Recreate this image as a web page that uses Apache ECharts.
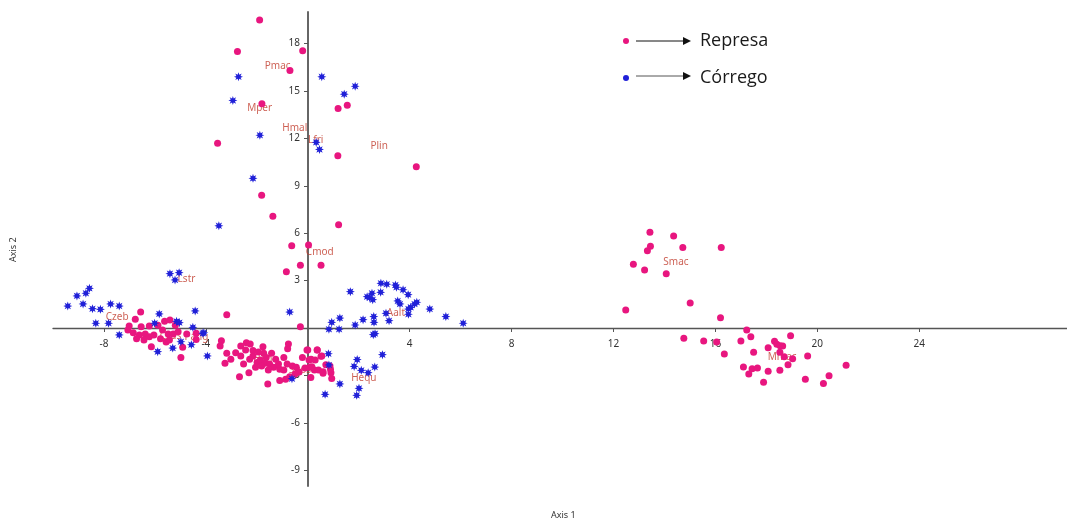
<!DOCTYPE html>
<html>
<head>
<meta charset="utf-8">
<script src="https://cdn.jsdelivr.net/npm/echarts@6/dist/echarts.min.js"></script>
<style>
  html, body { margin: 0; padding: 0; background: #fff; }
  #main { width: 1067px; height: 523px; }
</style>
</head>
<body>
<div id="main"></div>
<script>
// Represa samples (pink dots)
const represa = [
  [-1.89, 19.5], [-2.76, 17.5], [-0.2, 17.55], [-0.7, 16.3], [-1.8, 14.2], [-3.54, 11.7],
  [1.19, 13.9], [1.55, 14.1], [1.18, 10.9], [4.26, 10.2], [-1.81, 8.4], [-1.37, 7.07],
  [1.21, 6.54], [0.03, 5.25], [-0.63, 5.2], [-0.84, 3.56], [-0.29, 3.97], [0.52, 3.97],
  [-0.29, 0.08], [-3.18, 0.84],
  // right group
  [13.43, 6.06], [14.36, 5.82], [13.45, 5.17], [13.33, 4.89], [14.72, 5.1], [16.23, 5.1],
  [12.78, 4.03], [13.22, 3.67], [14.07, 3.44], [12.48, 1.14], [15.01, 1.58], [16.2, 0.65],
  [14.76, -0.65], [15.54, -0.82], [16.05, -0.89], [16.35, -1.65], [17.23, -0.13], [17.39, -0.55],
  [17.0, -0.82], [18.95, -0.49], [18.32, -0.84], [18.07, -1.25], [18.41, -1.03], [18.54, -1.12],
  [18.64, -1.14], [17.5, -1.54], [18.53, -1.54], [18.7, -1.82], [19.03, -1.94], [19.62, -1.77],
  [18.85, -2.32], [17.1, -2.47], [17.44, -2.58], [17.65, -2.53], [17.31, -2.91], [18.07, -2.74],
  [18.53, -2.68], [17.89, -3.44], [19.53, -3.25], [20.24, -3.52], [20.46, -3.02], [21.13, -2.36],
  // central group below axis
  [0, -1.39], [0.37, -1.39], [0.52, -1.79], [0.13, -1.98], [0.87, -2.4], [0.91, -2.83],
  [0.6, -2.87], [0.26, -2.66], [0.08, -2.49], [0.12, -3.14],
  [-3.39, -0.8], [-3.44, -1.14], [-3.18, -1.6], [-3.25, -2.23], [-3.02, -1.98], [-2.83, -1.56],
  [-2.63, -1.14], [-2.41, -0.93], [-2.26, -1.01], [-2.44, -1.39], [-2.63, -1.77], [-2.52, -2.28],
  [-2.31, -2.83], [-2.28, -1.98], [-2.15, -1.77], [-1.99, -2.19], [-2.05, -2.49], [-1.76, -1.18],
  [-1.73, -1.6], [-1.86, -2.03], [-1.68, -2.23], [-1.5, -2.28], [-1.34, -2.49], [-1.55, -2.66],
  [-1.26, -1.98], [-1.1, -2.61], [-0.94, -2.66], [-0.76, -1.01], [-0.79, -1.31], [-0.94, -1.86],
  [-0.81, -2.28], [-1.57, -3.54], [-1.1, -3.33], [-0.87, -3.25], [-0.6, -2.4], [-0.45, -2.49],
  [-0.34, -2.78], [-0.5, -2.91], [-0.71, -3.08], [-0.21, -1.86], [-0.03, -1.39], [0.05, -2.03],
  [-0.11, -2.53], [0.16, -2.45], [0.29, -2.03], [0.37, -1.39], [0.55, -1.77], [0.42, -2.66],
  [0.6, -2.77], [0.71, -2.32], [0.89, -2.61], [0.94, -3.2], [-2.68, -3.08],
  [-2.15, -1.43], [-1.94, -1.52], [-1.42, -1.6], [-1.15, -2.28], [-1.63, -1.86], [-1.81, -2.4],
  // left group
  [-6.56, 1.01], [-7.06, -0.13], [-6.85, -0.3], [-6.61, -0.44], [-6.38, -0.38], [-6.22, -0.55],
  [-6.04, -0.44], [-5.88, 0.17], [-5.62, 0.42], [-5.41, 0.51], [-5.2, 0.17], [-6.22, 0.13],
  [-6.54, 0.08], [-6.77, 0.55], [-5.7, -0.13], [-5.48, -0.38], [-5.28, -0.38], [-5.09, -0.23],
  [-4.75, -0.38], [-4.38, -0.34], [-6.14, -1.18], [-5.56, -0.89], [-5.43, -0.76], [-4.98, -1.86],
  [-4.91, -1.22], [-5.78, -0.68], [-6.43, -0.76], [-4.38, -0.72], [-7.01, 0.13], [-6.72, -0.68]
];

// Córrego samples (blue stars)
const corrego = [
  [-2.72, 15.9], [-2.94, 14.4], [-1.88, 12.2], [0.55, 15.9], [1.43, 14.8], [1.86, 15.3],
  [0.33, 11.75], [0.46, 11.3], [-2.15, 9.47], [-3.49, 6.47], [-0.71, 1.01],
  [1.67, 2.3], [2.87, 2.83], [3.1, 2.77], [3.44, 2.72], [3.48, 2.58], [3.74, 2.42], [3.94, 2.11],
  [2.52, 2.2], [2.86, 2.26], [2.33, 1.98], [2.43, 1.92], [2.55, 1.79], [3.53, 1.71], [3.62, 1.52],
  [4.28, 1.63], [4.19, 1.52], [4.04, 1.31], [3.95, 1.2], [4.79, 1.2], [5.42, 0.72], [6.1, 0.3],
  [3.07, 0.93], [3.95, 0.87], [3.19, 0.46], [2.17, 0.53], [2.59, 0.72], [2.6, 0.36], [1.86, 0.19],
  [1.26, 0.63], [0.94, 0.36], [1.23, -0.08], [0.83, -0.08], [2.57, -0.42], [2.64, -0.36],
  [2.93, -1.69], [0.81, -1.63], [0.83, -2.34], [1.94, -2.0], [1.82, -2.43], [2.1, -2.68],
  [2.37, -2.83], [2.63, -2.47], [1.26, -3.54], [2.01, -3.82], [1.92, -4.26], [0.68, -4.2],
  [-0.62, -3.21],
  [-4.12, -0.34], [-3.94, -1.77],
  [-8.57, 2.51], [-8.71, 2.2], [-9.06, 2.03], [-9.42, 1.39], [-8.82, 1.52], [-8.45, 1.22],
  [-8.14, 1.18], [-7.74, 1.52], [-7.4, 1.39], [-8.32, 0.3], [-7.82, 0.3], [-7.4, -0.44],
  [-5.83, 0.89], [-6.01, 0.3], [-5.89, -1.5], [-5.15, 0.42],
  [-5.41, 3.44], [-5.05, 3.5], [-5.21, 3.04], [-4.42, 1.08], [-4.51, 0.04], [-4.08, -0.3],
  [-5.04, 0.34], [-4.98, -0.87], [-5.3, -1.27], [-4.57, -1.06]
];

// species labels
const speciesNames = ['Pmac', 'Mper', 'Hmal', 'Lfri', 'Plin', 'Cmod', 'Lstr', 'Czeb', 'Ccas', 'Pang',
  'Hena', 'Sgos', 'Hequ', 'Aalt', 'Smac', 'Mmac'];
const speciesPos = [
  [-1.18, 16.58], [-1.89, 13.92], [-0.51, 12.66], [0.31, 11.9], [2.8, 11.52], [0.47, 4.81],
  [-4.76, 3.1], [-7.48, 0.7], [-5.39, -0.5], [-4.37, -0.57], [-1.65, -1.96], [-0.31, -2.66],
  [2.2, -3.16], [3.46, 0.95], [14.45, 4.18], [18.62, -1.84]
];

const xTicks = [-8, -4, 4, 8, 12, 16, 20, 24];
const yTicks = [-9, -6, -3, 3, 6, 9, 12, 15, 18];

function starPath(n, inner) {
  let d = '';
  for (let i = 0; i < n * 2; i++) {
    const a = i * Math.PI / n - Math.PI / 2;
    const r = i % 2 ? inner : 1;
    d += (i ? 'L' : 'M') + (r * Math.cos(a)).toFixed(3) + ' ' + (r * Math.sin(a)).toFixed(3);
  }
  return 'path://' + d + 'Z';
}

const chart = echarts.init(document.getElementById('main'));

const option = {
  animation: false,
  backgroundColor: '#fff',
  textStyle: { fontFamily: 'Noto Sans' },
  grid: { left: 53, right: 0, top: 12, bottom: 37 },
  legend: {
    orient: 'vertical',
    left: 618,
    top: 27,
    itemGap: 19,
    itemWidth: 6,
    itemHeight: 6,
    icon: 'circle',
    data: ['Represa', 'Córrego'],
    formatter: (name) => '{gap|}' + name,
    textStyle: {
      fontFamily: 'Open Sans',
      fontSize: 18,
      color: '#1a1a1a',
      rich: { gap: { width: 66 } }
    }
  },
  // axes cross at the origin: shift them into the plot with a negative offset
  xAxis: {
    type: 'value',
    min: -10,
    max: 29.8,
    offset: -158,
    axisLine: { onZero: false, lineStyle: { color: '#555', width: 1.3 } },
    axisTick: { show: true, length: 4, customValues: xTicks, lineStyle: { color: '#555' } },
    axisLabel: { customValues: xTicks, fontSize: 10, color: '#333', margin: 11 },
    splitLine: { show: false }
  },
  yAxis: {
    type: 'value',
    min: -10,
    max: 20,
    offset: -255,
    axisLine: { onZero: false, lineStyle: { color: '#666', width: 2 } },
    axisTick: { show: true, length: 4, customValues: yTicks, lineStyle: { color: '#555' } },
    axisLabel: { customValues: yTicks, fontSize: 10, color: '#333', margin: 8 },
    splitLine: { show: false }
  },
  graphic: [
    { type: 'line', shape: { x1: 636, y1: 41, x2: 684, y2: 41 }, style: { stroke: '#111', lineWidth: 1 } },
    { type: 'polygon', shape: { points: [[683, 37], [691, 41], [683, 45]] }, style: { fill: '#111' } },
    { type: 'line', shape: { x1: 636, y1: 76, x2: 684, y2: 76 }, style: { stroke: '#555', lineWidth: 1 } },
    { type: 'polygon', shape: { points: [[683, 72], [691, 76], [683, 80]] }, style: { fill: '#111' } },
    { type: 'text', left: 551, top: 511, style: { text: 'Axis 1', fontSize: 9, fill: '#333', fontFamily: 'Noto Sans' } },
    { type: 'text', x: 9, y: 262, rotation: Math.PI / 2, style: { text: 'Axis 2', fontSize: 9, fill: '#333', fontFamily: 'Noto Sans' } }
  ],
  series: [
    {
      name: 'labels',
      type: 'scatter',
      z: 1,
      symbolSize: 0,
      data: speciesNames.map((n, i) => ({ name: n, value: speciesPos[i] })),
      label: {
        show: true,
        position: 'inside',
        formatter: '{b}',
        fontSize: 10,
        color: '#c0392b',
        fontFamily: 'Noto Sans'
      },
      silent: true
    },
    {
      name: 'Represa',
      type: 'scatter',
      z: 3,
      symbol: 'circle',
      symbolSize: 7,
      itemStyle: { color: '#e8167f', opacity: 1 },
      data: represa
    },
    {
      name: 'Córrego',
      type: 'scatter',
      z: 4,
      symbol: starPath(8, 0.5),
      symbolSize: 9,
      itemStyle: { color: '#2020d8', opacity: 1 },
      data: corrego
    }
  ]
};

chart.setOption(option);
</script>
</body>
</html>
